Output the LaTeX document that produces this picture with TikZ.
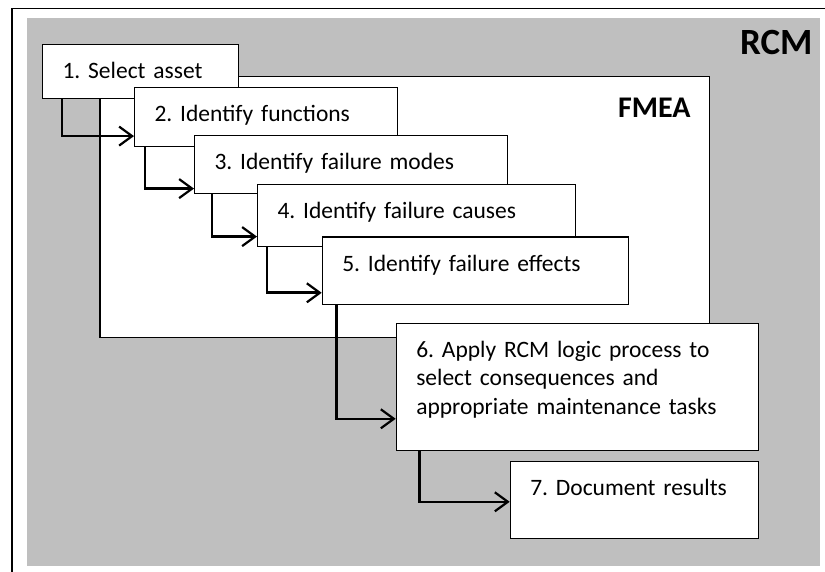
\documentclass[tikz,border=0pt]{standalone}
\usepackage{fontspec}
\setmainfont{Carlito}
\frenchspacing
\usetikzlibrary{calc,arrows.meta}
\definecolor{rcmgray}{HTML}{BFBFBF}
\tikzset{
  stepbox/.style={draw=black, line width=1.1pt, fill=white, anchor=north west,
    inner xsep=20pt, inner ysep=0pt, align=left,
    font=\fontsize{23.5}{28.7}\selectfont},
  conn/.style={draw=black, line width=2.6pt,
    -{Straight Barb[length=13pt,width=19pt,line width=2.2pt]}},
}
\newcommand\mkbox[7]{%
  \node[stepbox, text width=#4pt-40pt, minimum width=#4pt, minimum height=#5pt,
        text height=34pt, text depth=#5pt-34pt] (#1) at (#2,#3) {#6};}
\begin{document}
\begin{tikzpicture}[x=1pt,y=-1pt]
\useasboundingbox (0,0) rectangle (825,572);
% outer frame
\coordinate (ftl) at (12,8.5);
\coordinate (ftr) at (825,8.5);
\coordinate (fbl) at (12,572);
\draw[line width=1.6pt] (fbl) -- (ftl) -- (ftr);
% gray RCM area
\fill[rcmgray] (27,18.3) rectangle (820,565.7);
\node[anchor=base east, inner sep=0pt, font=\fontsize{37}{42}\selectfont\bfseries] (rcm) at (812.7,55) {RCM};
% FMEA area
\draw[line width=1.1pt, fill=white] (100,76.7) rectangle (709.3,337.7);
\node[anchor=base east, inner sep=0pt, font=\fontsize{30}{34}\selectfont\bfseries] (fmea) at (690.7,117.7) {FMEA};
% steps
\mkbox{b1}{42}{44}{196}{54}{1. Select asset}{}
\mkbox{b2}{134}{87}{263}{59}{2. Identify functions}{}
\mkbox{b3}{194}{135}{313}{58}{3. Identify failure modes}{}
\mkbox{b4}{257}{184}{318}{62}{4. Identify failure causes}{}
\mkbox{b5}{321.7}{236.5}{306.3}{67.5}{5. Identify failure effects}{}
\mkbox{b6}{395.7}{322.7}{362}{127.6}{6. Apply RCM logic process to\\select consequences and\\appropriate maintenance tasks}{}
\mkbox{b7}{509.7}{460.7}{248}{77.6}{7. Document results}{}
% connectors
\draw[conn] ($(b1.south west)+(20,0)$) |- ($(b2.south west)+(0,-11)$);
\draw[conn] ($(b2.south west)+(11,0)$) |- ($(b3.south west)+(0,-5.5)$);
\draw[conn] ($(b3.south west)+(18,0)$) |- ($(b4.south west)+(0,-10.5)$);
\draw[conn] ($(b4.south west)+(10,0)$) |- ($(b5.south west)+(0,-12.3)$);
\draw[conn] ($(b5.south west)+(15,0)$) |- ($(b6.south west)+(0,-32.6)$);
\draw[conn] ($(b6.south west)+(23.6,0)$) |- ($(b7.south west)+(0,-37.6)$);
\end{tikzpicture}
\end{document}
